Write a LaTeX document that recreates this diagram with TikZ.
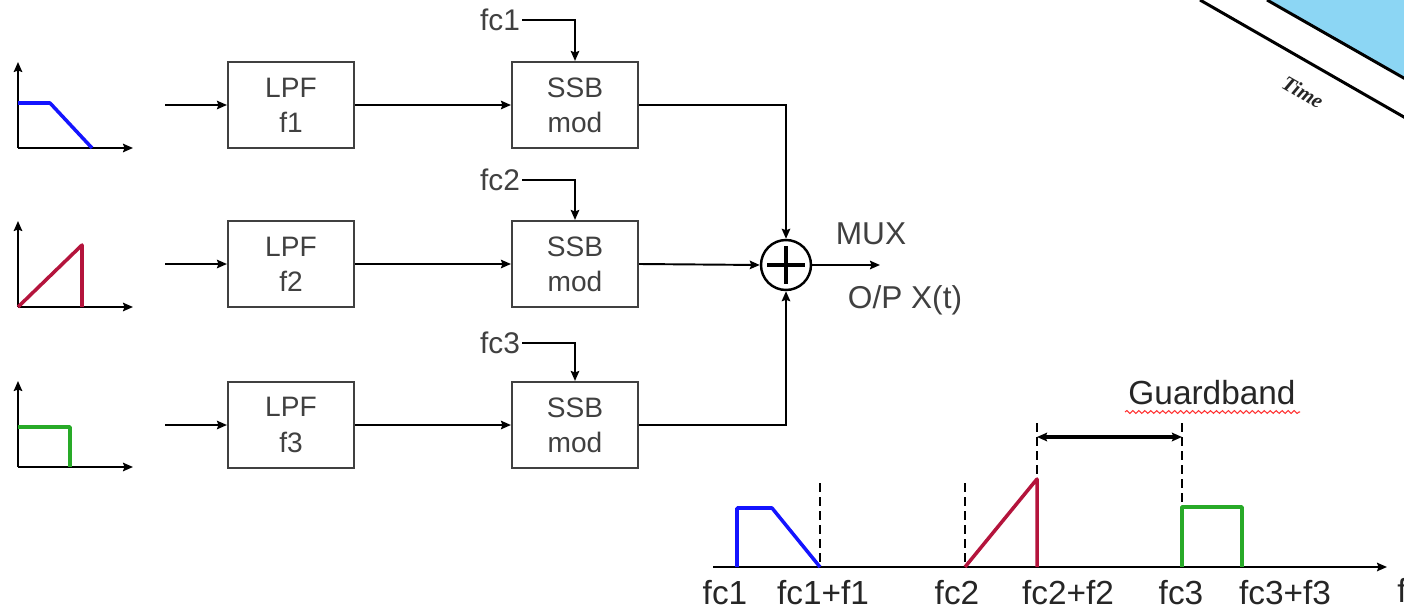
\documentclass[tikz,border=0pt]{standalone}
\usepackage{fontspec}
\setmainfont{Liberation Sans}
\newfontfamily\timefont{Liberation Serif}
\usepackage{tikz}
\usetikzlibrary{positioning,arrows.meta,decorations.pathmorphing}

\definecolor{sigblue}{RGB}{20,20,255}
\definecolor{sigred}{RGB}{180,20,60}
\definecolor{siggreen}{RGB}{40,170,40}
\definecolor{skyfill}{RGB}{140,214,244}

\begin{document}
\begin{tikzpicture}[
  x=0.02cm,y=-0.02cm,
  >={Stealth[length=0.2cm,width=0.17cm,inset=0.03cm]},
  blocknode/.style={rectangle,draw=black!75,line width=1.2pt,minimum width=2.52cm,minimum height=1.72cm,align=center,text=black!75,font=\fontsize{16}{20}\selectfont},
  maps/.style={->,line width=1.1pt},
  carrier/.style={font=\fontsize{17}{20}\selectfont,text=black!75,inner sep=1pt},
  sumnode/.style={circle,draw,line width=1.4pt,minimum size=1cm,inner sep=0pt},
  axisline/.style={->,line width=1.1pt},
  spec/.style={line width=2pt,draw=#1,line join=round},
  guide/.style={line width=0.8pt,dash pattern=on 5pt off 3pt},
  freq/.style={font=\fontsize{19}{22}\selectfont,text=black!85},
  note/.style={font=\fontsize{18}{22}\selectfont,text=black!75},
]
\useasboundingbox (0,0) rectangle (1404,612);
\clip (0,0) rectangle (1404,612);

% ==== corner of the time axis (top right) ====
\fill[skyfill] (1267,0) -- (1430,93) -- (1430,-10) -- (1267,-10) -- cycle;
\draw[line width=1.7pt] (1200,0) -- (1430,132);
\draw[line width=1.7pt] (1267,0) -- (1430,93);
\node[rotate=-30,text=black!85,font=\timefont\bfseries\itshape\fontsize{12}{14}\selectfont] (timelbl) at (1303,92) {Time};

% ==== input spectra (left) ====
\draw[axisline] (18,148) -- (133,148);
\draw[axisline] (18,148) -- (18,62);
\draw[spec=sigblue] (18,103) -- (50,103) -- (92,148);

\draw[axisline] (18,307) -- (133,307);
\draw[axisline] (18,307) -- (18,221);
\draw[spec=sigred] (18,307) -- (82,245) -- (82,307);

\draw[axisline] (18,467) -- (133,467);
\draw[axisline] (18,467) -- (18,381);
\draw[spec=siggreen] (18,427) -- (70,427) -- (70,467);

% ==== filters and modulators ====
\node[blocknode] (L1) at (291,105) {LPF\\f1};
\node[blocknode] (L2) at (291,264) {LPF\\f2};
\node[blocknode] (L3) at (291,425) {LPF\\f3};

\node[blocknode] (S1) at (575,105) {SSB\\mod};
\node[blocknode] (S2) at (575,264) {SSB\\mod};
\node[blocknode] (S3) at (575,425) {SSB\\mod};

\coordinate (in1) at (165,105);
\coordinate (in2) at (165,264);
\coordinate (in3) at (165,425);

\node[carrier,anchor=east] (fc1) at (522,20) {fc1};
\node[carrier,anchor=east] (fc2) at (522,180) {fc2};
\node[carrier,anchor=east] (fc3) at (522,343) {fc3};

\draw[maps] (in1) -- (L1.west);
\draw[maps] (in2) -- (L2.west);
\draw[maps] (in3) -- (L3.west);
\draw[maps] (L1.east) -- (S1.west);
\draw[maps] (L2.east) -- (S2.west);
\draw[maps] (L3.east) -- (S3.west);
\draw[maps] (fc1.east) -| (S1.north);
\draw[maps] (fc2.east) -| (S2.north);
\draw[maps] (fc3.east) -| (S3.north);

% ==== adder ====
\node[sumnode] (sum) at (786,265) {};
\draw[line width=1.8pt] (sum.center) ++(-19,0) -- ++(38,0);
\draw[line width=1.8pt] (sum.center) ++(0,-19) -- ++(0,38);
\coordinate (out) at (880,265);

\draw[maps] (S1.east) -| (sum.north);
\draw[maps] (S2.east) -- (sum.west);
\draw[maps] (S3.east) -| (sum.south);
\draw[maps] (sum.east) -- (out);

\node[note] (mux) at (871,234) {MUX};
\node[note] (op) at (905,300) {O/P X(t)};

% ==== multiplexed spectrum (bottom) ====
\draw[axisline] (713,567) -- (1387,567);
\draw[guide] (820,483) -- (820,567);
\draw[guide] (965,483) -- (965,567);
\draw[guide] (1037,423) -- (1037,567);
\draw[guide] (1182,423) -- (1182,567);
\draw[spec=sigblue] (737,567) -- (737,508) -- (772,508) -- (820,567);
\draw[spec=sigred] (965,567) -- (1037,479) -- (1037,567);
\draw[spec=siggreen] (1182,567) -- (1182,507) -- (1242,507) -- (1242,567);

\coordinate (gbL) at (1037,437);
\coordinate (gbR) at (1182,437);
\draw[<->,line width=2.2pt] (gbL) -- (gbR);
\node[freq] (gb) at (1212,393) {Guardband};
\draw[red!80,line width=0.6pt,decorate,decoration={snake,amplitude=0.8pt,segment length=3.4pt}] (1125,412) -- (1300,412);

\node[freq] (x1) at (725,593) {fc1};
\node[freq] (x2) at (823,593) {fc1+f1};
\node[freq] (x3) at (957,593) {fc2};
\node[freq] (x4) at (1068,593) {fc2+f2};
\node[freq] (x5) at (1181,593) {fc3};
\node[freq] (x6) at (1285,593) {fc3+f3};
\node[freq,anchor=west,inner sep=0pt] (x7) at (1397,590) {f};

\end{tikzpicture}
\end{document}
